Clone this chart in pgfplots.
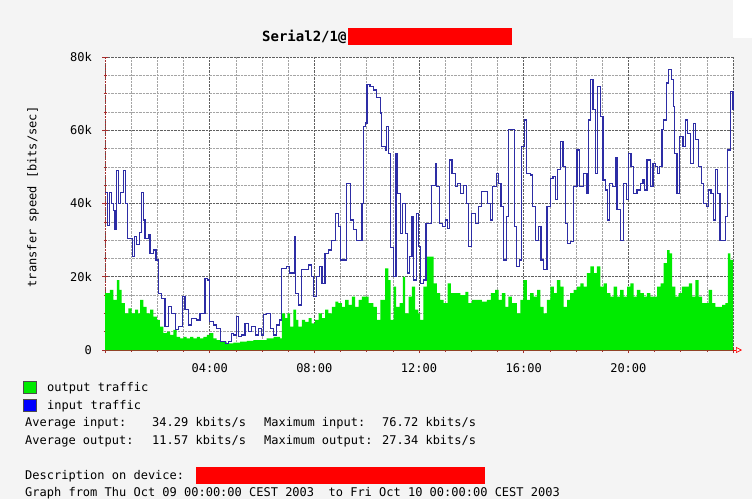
\documentclass[border=0pt]{standalone}
\usepackage{pgfplots}
\pgfplotsset{compat=1.18}
\usetikzlibrary{arrows.meta}
\usepackage{fontspec}
\setmainfont{DejaVu Sans Mono}
\definecolor{bg}{RGB}{244,244,244}
\definecolor{outgreen}{RGB}{0,235,0}
\definecolor{inblue}{RGB}{45,45,165}
\definecolor{majgrid}{RGB}{95,95,95}
\definecolor{mingrid}{RGB}{165,165,165}
\definecolor{axred}{RGB}{165,45,45}
\newcommand{\tf}{\fontsize{12}{14}\selectfont}
\begin{document}
\begin{tikzpicture}[x=1pt,y=1pt]
\useasboundingbox (0,0) rectangle (752,499);
\fill[bg] (0,0) rectangle (752,499);
\fill[white] (733,461) rectangle (752,499);
\begin{axis}[at={(105pt,149pt)}, anchor=south west, scale only axis,
  width=628pt, height=293pt,
  xmin=0, xmax=24, ymin=0, ymax=80,
  axis background/.style={fill=white},
  axis x line=bottom, axis y line=left,
  x axis line style={draw=axred, line width=0.8pt, -},
  y axis line style={draw=axred, line width=0.6pt, densely dotted, -},
  xtick={0,4,...,24}, xticklabels={,04:00,08:00,12:00,16:00,20:00,},
  minor xtick={1,2,3,5,6,7,9,10,11,13,14,15,17,18,19,21,22,23},
  ytick={0,20,40,60,80}, yticklabels={0,20k,40k,60k,80k},
  minor ytick={5,10,15,25,30,35,45,50,55,65,70,75},
  grid=both,
  major grid style={densely dotted, majgrid, line width=0.6pt},
  minor grid style={densely dotted, mingrid, line width=0.5pt},
  tick align=center, major tick length=6pt, minor tick length=3pt,
  tick style={axred, line width=0.6pt},
  ticklabel style={font=\tf},
  xticklabel style={anchor=center, yshift=-15pt},
  yticklabel style={anchor=east, inner sep=0pt, xshift=-10pt},
  clip=false,
]
\addplot[const plot, fill=outgreen, draw=none] coordinates {
(0,15.5)(0.19,16.4)(0.32,13.7)(0.45,19.1)(0.55,16.4)(0.64,12.8)(0.76,10)(0.89,11.4)
(1.02,10)(1.15,11)(1.27,10)(1.34,13.7)(1.47,11.8)(1.59,10)(1.72,11)(1.85,9.1)(1.98,8.2)
(2.10,6.4)(2.23,4.6)(2.36,5)(2.49,4.1)(2.61,5.5)(2.74,3.6)(2.87,3.2)(3.00,3.6)(3.12,3.2)
(3.25,3.6)(3.38,3.2)(3.51,3.6)(3.63,3.2)(3.76,3.6)(3.89,4.1)(4.02,4.6)(4.14,3.2)(4.27,2.7)
(4.40,2.3)(4.65,1.8)(4.91,2)(5.16,2.3)(5.42,2.5)(5.67,2.7)(5.93,2.7)(6.18,3.2)(6.44,3.6)
(6.69,3.2)(6.76,10)(6.88,8.7)(6.97,10)(7.07,6.4)(7.20,11)(7.30,8.2)(7.39,6.4)(7.52,8.2)
(7.65,7.7)(7.78,8.7)(7.90,7.3)(8.03,8.2)(8.16,10)(8.29,8.7)(8.41,11)(8.54,10)(8.67,11.8)
(8.80,13.2)(8.92,12.8)(9.05,11.8)(9.18,13.7)(9.31,12.3)(9.43,14.6)(9.56,11.8)(9.69,13.7)
(9.82,14.6)(9.94,14.6)(10.07,12.8)(10.26,11.8)(10.39,8.2)(10.52,13.7)(10.71,22.3)(10.83,19.1)
(10.92,8.2)(11.03,17.3)(11.13,11.8)(11.26,12.8)(11.38,20)(11.47,10)(11.60,14.6)(11.73,17.3)
(11.85,11)(11.98,10)(12.04,8.2)(12.17,17.3)(12.30,25.5)(12.43,25.5)(12.56,18.2)(12.68,15.5)
(12.81,13.7)(12.94,12.8)(13.09,18.2)(13.22,15.5)(13.38,15.5)(13.58,15)(13.77,15.9)(13.89,12.8)
(14.02,13.7)(14.21,13.7)(14.40,13.2)(14.59,13.7)(14.75,15.5)(14.91,16.4)(15.04,13.7)(15.17,15.5)
(15.30,11.8)(15.42,14.6)(15.55,12.8)(15.74,10)(15.87,13.7)(15.99,19.1)(16.12,13.7)(16.25,15.5)
(16.38,14.6)(16.51,16.4)(16.64,11.8)(16.76,10)(16.89,13.7)(17.02,17.3)(17.15,15.5)(17.27,19.1)
(17.40,17.3)(17.53,11.8)(17.66,13.7)(17.78,15.5)(17.91,16.4)(18.04,17.3)(18.17,18.2)(18.29,17.3)
(18.42,21)(18.55,22.8)(18.68,21)(18.80,22.8)(18.93,17.3)(19.06,18.2)(19.18,15.5)(19.31,14.6)
(19.44,17.3)(19.57,14.6)(19.69,16.4)(19.82,14.6)(19.95,17.3)(20.08,18.2)(20.20,14.6)(20.33,16.4)
(20.46,15.5)(20.59,14.6)(20.71,15.5)(20.84,14.6)(20.97,14.6)(21.10,17.3)(21.23,18.2)(21.35,23.7)
(21.48,27.3)(21.58,26.4)(21.67,17.3)(21.80,14.6)(21.92,15.5)(22.05,17.3)(22.18,17.3)(22.31,18.2)
(22.44,14.6)(22.56,19.1)(22.69,14.6)(22.82,12.8)(22.94,12.8)(23.07,16.4)(23.20,12.8)(23.33,11.8)
(23.45,11.8)(23.58,12.3)(23.71,12.8)(23.80,26.4)(23.90,24.6)(24,22.8)
} \closedcycle;
\addplot[const plot, inblue, line width=1.2pt] coordinates {
(0,43)(0.09,34)(0.17,43)(0.25,40)(0.32,38)(0.38,33)(0.45,49)(0.51,40)(0.60,43)(0.70,49)
(0.79,40)(0.85,30.5)(0.98,30.5)(1.05,25.5)(1.12,31)(1.21,28.7)(1.31,32)(1.40,43)(1.47,35.5)
(1.53,30.5)(1.66,31.4)(1.72,26.4)(1.85,27.3)(1.95,24.6)(2.04,15.5)(2.17,14.1)(2.29,6.4)
(2.42,11.8)(2.55,10)(2.68,5.5)(2.80,6.4)(2.97,14.6)(3.06,11)(3.19,6.8)(3.31,8.7)(3.51,8.2)
(3.63,10)(3.76,10)(3.82,19.6)(3.91,19.1)(3.99,7.7)(4.14,6.8)(4.27,5.9)(4.40,2.3)(4.59,1.8)
(4.72,2.3)(4.82,4.6)(4.91,4.1)(5.04,9.1)(5.10,3.6)(5.23,4.1)(5.35,7.3)(5.48,5)(5.61,6.4)
(5.74,4.1)(5.86,5.9)(5.99,4.1)(6.05,9.6)(6.18,10)(6.31,5.9)(6.44,4.1)(6.56,6.8)(6.67,8.2)
(6.76,22.3)(6.95,22.8)(7.05,21)(7.14,21)(7.23,31)(7.29,15.5)(7.39,12.3)(7.52,21.9)(7.65,21.9)
(7.78,23.2)(7.90,20)(7.97,14.6)(8.07,20)(8.20,22.8)(8.29,18.2)(8.41,26.4)(8.54,27.3)(8.67,30)
(8.80,37.3)(8.92,33.7)(9.01,24.6)(9.11,24.6)(9.24,45.5)(9.37,35.5)(9.50,32.8)(9.62,30)
(9.75,30)(9.82,40)(9.88,61)(9.94,62)(10.01,72.4)(10.13,72)(10.26,71)(10.39,69)(10.52,64.7)
(10.58,55.6)(10.71,54.6)(10.77,61)(10.83,53.7)(10.92,28)(11.03,20)(11.12,53.7)(11.18,42.8)
(11.28,31.9)(11.37,40)(11.47,31.9)(11.56,21)(11.64,25.5)(11.73,36.4)(11.79,19.1)(11.89,37.3)
(11.98,28.2)(12.07,18.2)(12.17,19.1)(12.27,34.6)(12.40,34.6)(12.49,45)(12.62,51)(12.68,44.6)
(12.79,34.6)(12.91,33.7)(13.00,35.5)(13.09,33.2)(13.17,51.9)(13.26,48.3)(13.38,44.6)(13.47,45.5)
(13.58,42.8)(13.70,45)(13.81,40)(13.89,28.2)(14.02,37.3)(14.15,34.6)(14.28,39.2)(14.40,43.3)
(14.53,43.3)(14.62,40)(14.72,35.5)(14.82,44.6)(14.95,48.3)(15.04,45.5)(15.13,39.2)(15.23,24.6)
(15.34,36.4)(15.42,60.1)(15.55,60.1)(15.64,33.7)(15.74,22.8)(15.85,24.6)(15.93,55.6)(16.02,62.8)
(16.12,48.3)(16.25,47.8)(16.35,39.2)(16.44,30)(16.57,33.7)(16.66,24.6)(16.76,21.9)(16.89,39.2)
(17.02,46.9)(17.12,47.4)(17.21,41)(17.30,49.2)(17.40,56.9)(17.50,50)(17.59,34.6)(17.68,29.1)
(17.78,29.6)(17.91,44.6)(18.04,54.6)(18.14,44.6)(18.29,48.3)(18.42,42.8)(18.48,62.8)(18.55,73.8)
(18.65,65.6)(18.74,48.3)(18.83,71.9)(18.93,63.7)(19.03,46.4)(19.12,43.7)(19.21,35.5)(19.29,45.5)
(19.38,44.6)(19.50,52.4)(19.57,38.3)(19.69,30)(19.82,45.5)(19.92,41)(20.01,53.7)(20.10,50)
(20.20,42.8)(20.33,43.7)(20.46,45.5)(20.56,46.4)(20.61,43.7)(20.71,51.9)(20.84,44.6)(20.94,51)
(21.03,50)(21.12,48.3)(21.20,50)(21.29,60.1)(21.35,62.8)(21.45,72.9)(21.55,76.5)(21.64,73.8)
(21.72,66.5)(21.76,53.7)(21.86,42.8)(21.97,58.3)(22.09,55.6)(22.18,62.8)(22.27,59.2)(22.37,51)
(22.48,61.9)(22.56,57.4)(22.69,50)(22.79,45.5)(22.88,40)(22.98,39.2)(23.07,43.7)(23.16,42.8)
(23.24,35.5)(23.33,49.2)(23.42,42.8)(23.50,30)(23.62,30)(23.71,36.4)(23.80,54.6)(23.90,70.6)
(24,65.6)
};
\draw[red, line width=0.7pt, -{Triangle[open,length=6pt,width=6pt]}] (axis cs:24,0) -- ++(9pt,0);
\end{axis}
% y label
\node[rotate=90, font=\tf] at (33,302) {transfer speed [bits/sec]};
% title
\node[anchor=base west, inner sep=0pt, font=\fontsize{14}{16}\selectfont\bfseries] at (262,457) {Serial2/1@};
\fill[red] (348,454) rectangle (512,471);
% legend
\draw[fill=outgreen, draw=black!70, line width=0.6pt] (23,106) rectangle (36,118);
\node[anchor=base west, inner sep=0pt, font=\tf] at (47,107.5) {output traffic};
\draw[fill=blue, draw=black!70, line width=0.6pt] (23,88) rectangle (36,100);
\node[anchor=base west, inner sep=0pt, font=\tf] at (47,89.5) {input traffic};
\node[anchor=base west, inner sep=0pt, font=\tf] at (25,72.5) {Average input:};
\node[anchor=base west, inner sep=0pt, font=\tf] at (152,72.5) {34.29 kbits/s};
\node[anchor=base west, inner sep=0pt, font=\tf] at (264,72.5) {Maximum input:};
\node[anchor=base west, inner sep=0pt, font=\tf] at (382,72.5) {76.72 kbits/s};
\node[anchor=base west, inner sep=0pt, font=\tf] at (25,54.5) {Average output:};
\node[anchor=base west, inner sep=0pt, font=\tf] at (152,54.5) {11.57 kbits/s};
\node[anchor=base west, inner sep=0pt, font=\tf] at (264,54.5) {Maximum output:};
\node[anchor=base west, inner sep=0pt, font=\tf] at (382,54.5) {27.34 kbits/s};
\node[anchor=base west, inner sep=0pt, font=\tf] at (25,19.5) {Description on device:};
\fill[red] (196,15) rectangle (485,32);
\node[anchor=base west, inner sep=0pt, font=\tf] at (25,2.5) {Graph from Thu Oct 09 00:00:00 CEST 2003\ \ to Fri Oct 10 00:00:00 CEST 2003};
\end{tikzpicture}
\end{document}
